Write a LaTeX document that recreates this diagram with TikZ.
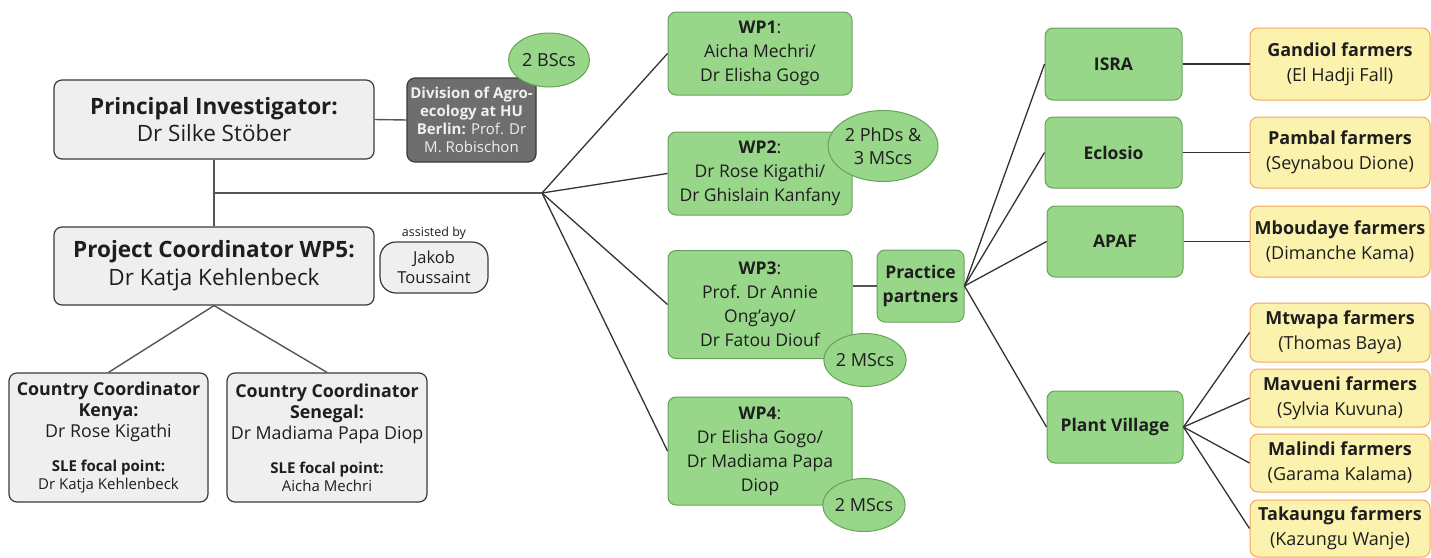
\documentclass[tikz,border=0pt]{standalone}
\usepackage{fontspec}
\setmainfont{Open Sans}
\usetikzlibrary{shapes.geometric}

\definecolor{boxgray}{HTML}{EFEFEF}
\definecolor{boxline}{HTML}{3A3A3A}
\definecolor{divgray}{HTML}{6E6E6E}
\definecolor{greenfill}{HTML}{98D68A}
\definecolor{greenline}{HTML}{66A358}
\definecolor{yellowfill}{HTML}{FBF3AD}
\definecolor{orangeline}{HTML}{F6A45E}
\definecolor{linkgray}{HTML}{555555}
\definecolor{linkdark}{HTML}{333333}
\definecolor{txt}{HTML}{1E1E1E}

\newcommand{\fs}[2]{\fontsize{#1}{#2}\selectfont}

\begin{document}
\begin{tikzpicture}[x=1pt,y=-1pt,
    person/.style={draw=boxline, fill=boxgray, rounded corners=8pt, line width=1.2pt,
        align=center, inner sep=0pt, text=txt},
    wpbox/.style={draw=greenline, fill=greenfill, rounded corners=8pt, line width=1pt,
        align=center, inner sep=0pt, text=txt, minimum width=184pt, font=\fs{17.5}{24}},
    partner/.style={draw=greenline, fill=greenfill, rounded corners=8pt, line width=1pt,
        align=center, inner sep=0pt, text=txt, font=\fs{17.5}{24}\bfseries},
    bubble/.style={ellipse, draw=greenline, fill=greenfill, line width=1pt,
        align=center, inner sep=0pt, text=txt, font=\fs{18}{23}},
    farmer/.style={draw=orangeline, fill=yellowfill, rounded corners=8pt, line width=1pt,
        align=center, inner sep=0pt, text=txt, minimum width=180pt, font=\fs{18}{25}},
    link/.style={draw=linkgray, line width=1.4pt},
    linkb/.style={draw=linkdark, line width=1.3pt}]

\useasboundingbox (0,0) rectangle (1431,557);

% left side
\node[person, minimum width=320pt, minimum height=79pt, font=\fs{22.5}{27}] (pi) at (214,119.5)
    {\textbf{Principal Investigator:}\\Dr Silke Stöber};
\node[person, minimum width=320pt, minimum height=78pt, font=\fs{22.5}{28}] (pc) at (214,266)
    {\textbf{Project Coordinator WP5:}\\Dr Katja Kehlenbeck};
\node[person, fill=divgray, text=boxgray, minimum width=129pt, minimum height=84pt,
    font=\fs{15}{18}] (div) at (471.5,120)
    {\textbf{Division of Agro-}\\\textbf{ecology at HU}\\\textbf{Berlin:} Prof. Dr\\M. Robischon};
\node[bubble, minimum width=81pt, minimum height=54pt] (bsc) at (549,60) {2 BScs};
\node[person, rounded corners=16pt, minimum width=108pt, minimum height=51pt,
    font=\fs{16.5}{20}] (jakob) at (434,267.5) {Jakob\\Toussaint};
\node[anchor=south, inner sep=2pt, text=txt, font=\fs{12.5}{14}] (asst) at (jakob.north) {assisted by};

\node[person, minimum width=199pt, minimum height=129pt, font=\fs{17.8}{21}] (kenya) at (108.5,437.5)
    {\textbf{Country Coordinator}\\\textbf{Kenya:}\\Dr Rose Kigathi\\[13pt]
     \fs{15}{18}\textbf{SLE focal point:}\\[-3pt]\fs{15}{18}Dr Katja Kehlenbeck};
\node[person, minimum width=200pt, minimum height=129pt, font=\fs{17.8}{21}] (senegal) at (327,437.5)
    {\textbf{Country Coordinator}\\\textbf{Senegal:}\\Dr Madiama Papa Diop\\[13pt]
     \fs{15}{18}\textbf{SLE focal point:}\\[-3pt]\fs{15}{18}Aicha Mechri};

% work packages
\node[wpbox, minimum height=83pt] (wp1) at (760,53.5) {\textbf{WP1}:\\Aicha Mechri/\\Dr Elisha Gogo};
\node[wpbox, minimum height=83pt] (wp2) at (760,173.5) {\textbf{WP2}:\\Dr Rose Kigathi/\\Dr Ghislain Kanfany};
\node[wpbox, minimum height=108pt] (wp3) at (760,304.5)
    {\textbf{WP3}:\\Prof. Dr Annie\\Ong’ayo/\\Dr Fatou Diouf};
\node[wpbox, minimum height=108pt] (wp4) at (760,451)
    {\textbf{WP4}:\\Dr Elisha Gogo/\\Dr Madiama Papa\\Diop};
\node[bubble, minimum width=110pt, minimum height=71pt] (phd) at (883,146) {2 PhDs \&\\3 MScs};
\node[bubble, minimum width=81pt, minimum height=53pt] (msc3) at (865,360) {2 MScs};
\node[bubble, minimum width=81pt, minimum height=53pt] (msc4) at (864,505) {2 MScs};

% partners
\node[partner, minimum width=87pt, minimum height=72pt] (pp) at (920.5,286) {Practice\\partners};
\node[partner, minimum width=137pt, minimum height=72pt] (isra) at (1113.5,64) {ISRA};
\node[partner, minimum width=137pt, minimum height=71pt] (eclosio) at (1113.5,152.5) {Eclosio};
\node[partner, minimum width=136pt, minimum height=71pt] (apaf) at (1115,241.5) {APAF};
\node[partner, minimum width=136pt, minimum height=72pt] (pv) at (1115,427) {Plant Village};

% farmer groups
\node[farmer, minimum height=72pt] (gandiol) at (1340,64) {\textbf{Gandiol farmers}\\(El Hadji Fall)};
\node[farmer, minimum height=71pt] (pambal) at (1340,152.5) {\textbf{Pambal farmers}\\(Seynabou Dione)};
\node[farmer, minimum height=71pt] (mboudaye) at (1340,241.5) {\textbf{Mboudaye farmers}\\(Dimanche Kama)};
\node[farmer, minimum height=59pt] (mtwapa) at (1340,332.5) {\textbf{Mtwapa farmers}\\(Thomas Baya)};
\node[farmer, minimum height=58pt] (mavueni) at (1340,398) {\textbf{Mavueni farmers}\\(Sylvia Kuvuna)};
\node[farmer, minimum height=58pt] (malindi) at (1340,463) {\textbf{Malindi farmers}\\(Garama Kalama)};
\node[farmer, minimum height=57pt] (takaungu) at (1340,528.5) {\textbf{Takaungu farmers}\\(Kazungu Wanje)};

% connectors
\coordinate (jn) at (214,193);
\coordinate (fan) at (542,193);
\draw[link] (pi.east) -- (div.west);
\draw[link] (pi.south) -- (pc.north);
\draw[link] (jn) -- (fan);
\draw[link] (pc.south) -- (kenya.north);
\draw[link] (pc.south) -- (senegal.north);
\foreach \w in {wp1,wp2,wp3,wp4}
    \draw[linkb] (fan) -- (\w.west);
\draw[link] (pp.west) -- (pp.west -| wp3.east);
\foreach \p in {isra,eclosio,apaf,pv}
    \draw[linkb] (pp.east) -- (\p.west);
\draw[linkb] (isra.east) -- (gandiol.west);
\draw[linkb] (eclosio.east) -- (pambal.west);
\draw[linkb] (apaf.east) -- (mboudaye.west);
\foreach \f in {mtwapa,mavueni,malindi,takaungu}
    \draw[linkb] (pv.east) -- (\f.west);
\end{tikzpicture}
\end{document}
